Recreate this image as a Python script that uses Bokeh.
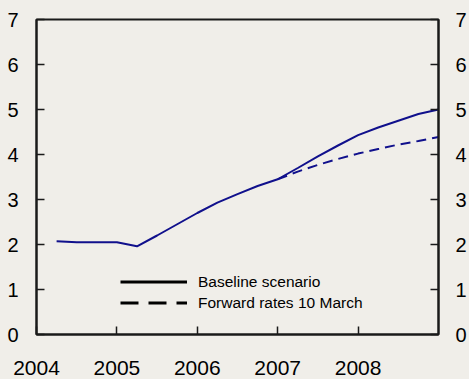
from bokeh.plotting import figure
from bokeh.models import (Legend, LegendItem, FixedTicker, LinearAxis, Range1d,
                          GlobalInlineStyleSheet)
from bokeh.embed import file_html
from bokeh.resources import INLINE

# ---- data ----
quarters = [2004.25, 2004.5, 2004.75, 2005.0, 2005.25, 2005.5, 2005.75, 2006.0,
            2006.25, 2006.5, 2006.75, 2007.0, 2007.25, 2007.5, 2007.75, 2008.0,
            2008.25, 2008.5, 2008.75, 2009.0]
baseline = [2.07, 2.05, 2.05, 2.05, 1.96, 2.2, 2.45, 2.7,
            2.93, 3.12, 3.3, 3.45, 3.7, 3.96, 4.2, 4.43,
            4.6, 4.75, 4.9, 5.0]
fwd_quarters = [2007.0, 2007.25, 2007.5, 2007.75, 2008.0, 2008.25, 2008.5,
                2008.75, 2009.0]
forward = [3.45, 3.62, 3.77, 3.9, 4.02, 4.12, 4.22, 4.3, 4.39]

y_ticks = [0, 1, 2, 3, 4, 5, 6, 7]
x_ticks = [2004, 2005, 2006, 2007, 2008]
x_tick_labels = {2004: "2004", 2005: "2005", 2006: "2006", 2007: "2007", 2008: "2008"}
legend_labels = ["Baseline scenario", "Forward rates 10 March"]

BG = "#F0EEE9"
NAVY = "#10108C"
FONT = "Liberation Sans"

p = figure(width=469, height=379,
           x_range=Range1d(2004, 2009), y_range=Range1d(0, 7),
           output_backend="svg", toolbar_location=None,
           min_border_left=36, min_border_right=31,
           min_border_top=19, min_border_bottom=45,
           background_fill_color=BG, border_fill_color=BG,
           outline_line_color="#1a1a1a", outline_line_width=2)
p.grid.visible = False
p.stylesheets = [GlobalInlineStyleSheet(css="html, body { background-color: #F0EEE9; }")]

p.add_layout(LinearAxis(), "right")

for ax in p.axis:
    ax.axis_line_color = "#1a1a1a"
    ax.axis_line_width = 2
    ax.major_tick_line_color = "#1a1a1a"
    ax.major_tick_line_width = 1.5
    ax.major_tick_in = 8
    ax.major_tick_out = 0
    ax.minor_tick_line_color = None
    ax.major_label_text_font = FONT
    ax.major_label_text_font_size = "20px"
    ax.major_label_text_color = "black"

p.xaxis.ticker = FixedTicker(ticks=x_ticks)
p.xaxis.major_label_overrides = x_tick_labels
p.xaxis.major_label_standoff = 26
p.xaxis.major_label_text_font_size = "21px"
for ax in p.yaxis:
    ax.ticker = FixedTicker(ticks=y_ticks)
p.yaxis[0].major_label_standoff = 18
p.yaxis[1].major_label_standoff = 17

p.line(quarters, baseline, line_color=NAVY, line_width=2)
p.line(fwd_quarters, forward, line_color=NAVY, line_width=2, line_dash="10 6")

nan = float("nan")
leg1 = p.line([nan], [nan], line_color="black", line_width=3)
leg2 = p.line([nan], [nan], line_color="black", line_width=3, line_dash="18 10")

legend = Legend(items=[LegendItem(label=legend_labels[0], renderers=[leg1]),
                       LegendItem(label=legend_labels[1], renderers=[leg2])],
                location=(84, 21), orientation="vertical",
                glyph_width=67, glyph_height=21, label_height=21,
                label_standoff=11, spacing=0, padding=0, margin=0,
                border_line_color=None, background_fill_alpha=0,
                label_text_font=FONT, label_text_font_size="15.5px",
                label_text_color="black")
p.add_layout(legend, "center")

open("out.html", "w").write(file_html(p, INLINE))
